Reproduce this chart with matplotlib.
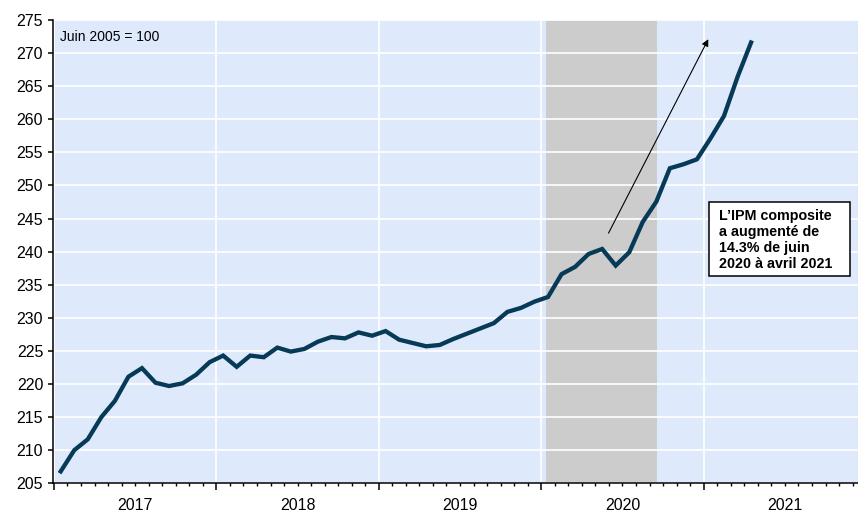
import numpy as np
import matplotlib
matplotlib.use('Agg')
import matplotlib.pyplot as plt
from matplotlib.patches import Rectangle
from matplotlib.ticker import FixedLocator, FuncFormatter

plt.rcParams['font.family'] = ['Liberation Sans', 'DejaVu Sans']

# Monthly composite index, Jan 2017 .. Apr 2021 (June 2005 = 100)
years = [2017, 2018, 2019, 2020, 2021]
ipm = [
    206.8, 210.0, 211.65, 215.0, 217.45, 221.1, 222.4, 220.2, 219.7, 220.1, 221.4, 223.3,
    224.3, 222.6, 224.3, 224.05, 225.5, 224.9, 225.3, 226.4, 227.1, 226.9, 227.8, 227.3,
    228.0, 226.7, 226.2, 225.7, 225.9, 226.8, 227.6, 228.4, 229.2, 230.9, 231.5, 232.45,
    233.15, 236.6, 237.7, 239.65, 240.4, 237.9, 239.9, 244.5, 247.55, 252.6, 253.2, 253.95,
    257.1, 260.5, 266.4, 271.6,
]
# shaded period, in months since Jan 2017
shade = (36.35, 44.55)
note = "L\u2019IPM composite\na augmenté de\n14.3% de juin\n2020 à avril 2021"

bg = '#DEEAFC'
line_col = '#073A56'

fig = plt.figure(figsize=(8.58, 5.11), dpi=100)
ax = fig.add_axes([53 / 858, 1 - 483.3 / 511, 1 - 53 / 858, (483.3 - 20) / 511])
ax.set_facecolor(bg)

x = np.arange(len(ipm)) + 0.5
ax.axvspan(shade[0], shade[1], color='#CCCCCC', lw=0, zorder=0.5)
ax.plot(x, ipm, color=line_col, lw=3.1, solid_joinstyle='miter', zorder=3)

ax.set_xlim(-0.07, 59.4)
ax.set_ylim(205, 275)

# y axis
ax.set_yticks(np.arange(205, 276, 5))
ax.tick_params(axis='y', direction='out', length=3.6, width=1.1, pad=3.5, labelsize=11.5)

# x axis: year boundaries as major ticks, months as minor ticks, year labels mid-year
n_months = 12 * len(years)
ax.xaxis.set_major_locator(FixedLocator(np.arange(0, n_months + 1, 12)))
ax.xaxis.set_major_formatter(FuncFormatter(lambda v, p: ''))
ax.xaxis.set_minor_locator(FixedLocator([m for m in range(n_months + 1) if m % 12]))
ax.xaxis.set_minor_formatter(FuncFormatter(
    lambda v, p: str(years[0] + int(round(v)) // 12) if int(round(v)) % 12 == 6 else ''))
ax.tick_params(axis='x', which='major', direction='out', length=5, width=1.1)
ax.tick_params(axis='x', which='minor', direction='out', length=2.4, width=1.0,
               pad=8, labelsize=11.5)

ax.grid(axis='y', color='white', lw=1.2, zorder=1)
ax.grid(axis='x', which='major', color='white', lw=1.2, zorder=1)
ax.set_axisbelow(True)

for s in ['top', 'right']:
    ax.spines[s].set_visible(False)
for s in ['left', 'bottom']:
    ax.spines[s].set_linewidth(1.1)
    ax.spines[s].set_color('black')

ax.text(0.44, 272.5, "Juin 2005 = 100", fontsize=10, va='center', ha='left', zorder=4)

ax.annotate('', xy=(48.34, 272.1), xytext=(40.97, 242.8),
            arrowprops=dict(arrowstyle='-|>', color='black', lw=0.8,
                            mutation_scale=10, shrinkA=0, shrinkB=0), zorder=4)

ax.add_patch(Rectangle((48.37, 236.3), 10.41, 11.16, facecolor='white',
                       edgecolor='black', lw=1.1, zorder=4))
ax.text(49.13, 246.5, note, fontsize=10.3, fontweight='bold', va='top', ha='left',
        linespacing=1.2, zorder=5)

fig.savefig('out.png', dpi=100)
